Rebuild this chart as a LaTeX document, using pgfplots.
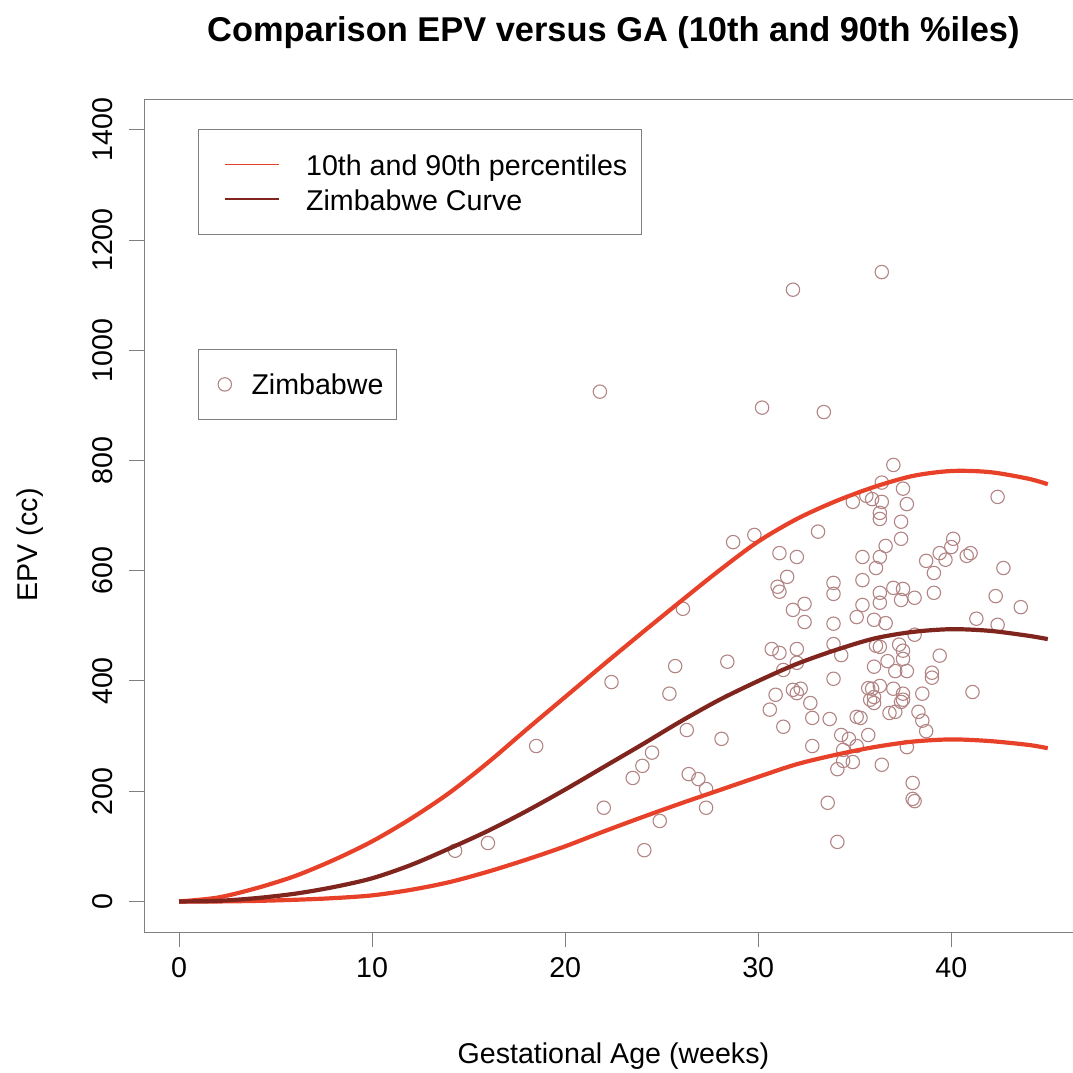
\documentclass[border=0pt]{standalone}
\usepackage{fontspec}
\setmainfont{Liberation Sans}
\usepackage{pgfplots}
\pgfplotsset{compat=1.18}
\usepackage{pgfplotstable}

\definecolor{pctred}{RGB}{232,65,42}
\definecolor{zimdark}{RGB}{128,36,30}
\definecolor{ptcol}{RGB}{178,132,132}
\definecolor{boxgray}{RGB}{128,128,128}

% EPV (cc) against gestational age (weeks), Zimbabwe sample
\pgfplotstableread{
ga epv
14.3 92
16.0 106
18.5 282
21.8 925
22.0 170
22.4 398
23.5 224
24.0 246
24.1 93
24.5 270
24.9 146
25.4 377
25.7 427
26.1 531
26.3 311
26.4 231
26.9 222
27.3 204
27.3 170
28.1 295
28.4 435
28.7 652
29.8 665
30.2 896
30.6 348
30.7 458
30.9 375
31.1 632
32.0 625
31.5 589
31.0 571
31.1 562
31.8 529
32.4 540
32.4 507
31.1 451
32.0 458
31.3 420
32.0 433
31.8 1110
31.8 384
32.0 378
32.2 386
31.3 317
32.7 360
32.8 333
33.7 331
32.8 282
33.1 671
33.4 888
33.9 578
33.9 558
33.9 504
33.9 467
34.3 447
33.9 404
34.3 302
34.7 295
34.4 275
34.4 255
34.9 253
34.1 240
33.6 179
34.1 108
34.9 725
35.6 736
35.9 730
36.4 760
37.0 792
36.4 1142
37.5 749
37.7 721
36.4 725
36.3 705
36.3 694
37.4 689
37.4 658
36.6 645
35.4 625
36.3 625
36.1 605
35.4 583
35.4 538
35.1 516
36.0 511
36.6 505
36.3 560
36.3 542
37.0 569
37.5 567
37.4 547
38.1 551
38.7 618
39.4 632
39.7 620
40.0 643
40.1 658
39.1 596
39.1 560
40.8 627
41.0 632
42.7 605
42.3 554
43.6 534
41.3 513
42.4 502
42.4 734
38.1 484
36.1 464
36.3 462
37.3 466
37.5 455
37.5 440
36.7 436
36.0 426
37.1 418
37.7 418
39.4 446
39.0 415
39.0 406
41.1 380
35.7 387
35.9 386
36.3 391
37.0 386
37.5 377
37.5 366
37.4 362
37.1 344
36.8 342
36.0 371
36.0 360
35.8 366
38.5 377
38.3 344
38.5 328
38.7 309
35.1 335
35.3 333
35.7 302
35.1 282
37.7 280
36.4 248
38.0 215
38.0 186
38.1 182
}\epvdata

% fitted curves: 10th, median (Zimbabwe) and 90th percentile
\pgfplotstableread{
ga lo mid hi
0 0 0 0
2 0 1 7
4 1 6 24
6 3 14 46
8 6 26 75
10 11 42 109
12 21 66 150
14 35 96 197
16 54 128 252
18 76 164 312
20 100 203 371
22 127 244 430
24 153 285 488
26 178 327 545
28 202 366 601
30 226 400 653
32 249 431 694
34 266 456 726
36 280 477 752
38 290 489 772
40 294 494 781
42 291 491 779
44 284 482 767
45 278 476 757
}\curves

\pgfplotsset{
  base/.style={
    scale only axis, width=489.1pt, height=416.65pt,
    at={(0,0)}, anchor=south west,
    xmin=-1.8, xmax=48.87, ymin=-56, ymax=1456,
  },
  legbox/.style={
    draw=boxgray, line width=0.5pt, fill=white, outer sep=0pt,
    font=\fontsize{14.3}{17}\selectfont,
  },
}

\begin{document}
\begin{tikzpicture}
% points, with their own legend
\begin{axis}[base, hide axis,
  legend style={legbox, at={(rel axis cs:0.05520,0.6996)}, anchor=north west,
    inner xsep=6.65pt, inner ysep=8.35pt, column sep=10pt,
    nodes={inner sep=0pt, text height=14.24pt, text depth=4.15pt}},
  legend cell align=left,
  legend image code/.code={\path (0pt,0pt); \draw[#1] plot coordinates {(6.35pt,0pt)};},
]
\addplot[only marks, mark=o, mark size=3.35pt, ptcol, mark options={line width=0.55pt}]
  table[x=ga, y=epv] {\epvdata};
\addlegendentry{Zimbabwe}
\end{axis}

% curves, frame, ticks and labels
\begin{axis}[base,
  axis line style={boxgray, line width=0.5pt},
  tick pos=left, tick align=outside, major tick length=7.5pt,
  tick style={boxgray, line width=0.5pt},
  xtick={0,10,20,30,40}, ytick={0,200,...,1400},
  /pgf/number format/assume math mode=true,
  /pgf/number format/1000 sep={},
  ticklabel style={font=\fontsize{14.3}{17}\selectfont},
  xticklabel style={anchor=base, yshift=-14.85pt},
  yticklabel style={xshift=-8.5pt, rotate=90, anchor=base},
  every axis title/.style={at={(469.1pt/2,416.65pt)}, anchor=base, yshift=28.65pt,
    font=\bfseries\fontsize{17.2}{20}\selectfont},
  every axis x label/.style={at={(469.1pt/2,0pt)}, anchor=base,
    yshift=-65.35pt, font=\fontsize{14.3}{17}\selectfont},
  every axis y label/.style={at={(axis description cs:0,0.465)}, xshift=-53.15pt,
    rotate=90, anchor=base, font=\fontsize{14.3}{17}\selectfont},
  title={Comparison EPV versus GA (10th and 90th \%iles)},
  xlabel={Gestational Age (weeks)},
  ylabel={EPV (cc)},
  legend style={legbox, at={(axis description cs:0.05520,0.9636)}, anchor=north west,
    inner xsep=7pt, inner ysep=8.85pt, column sep=13.3pt, row sep=0pt,
    nodes={inner sep=0pt, text height=14.24pt, text depth=3.15pt}},
  legend cell align=left,
  legend image code/.code={\path (0pt,0pt); \draw[#1, line width=0.75pt] (5.5pt,0pt) -- (32.2pt,0pt);},
]
\addplot[pctred, line width=2.1pt, smooth] table[x=ga, y=hi] {\curves};
\addlegendentry{10th and 90th percentiles}
\addplot[pctred, line width=2.1pt, smooth, forget plot] table[x=ga, y=lo] {\curves};
\addplot[zimdark, line width=2.1pt, smooth] table[x=ga, y=mid] {\curves};
\addlegendentry{Zimbabwe Curve}
\end{axis}
\pgfresetboundingbox
\path (-72.15pt,-70.35pt) rectangle (464.35pt,466.15pt);
\end{tikzpicture}
\end{document}
